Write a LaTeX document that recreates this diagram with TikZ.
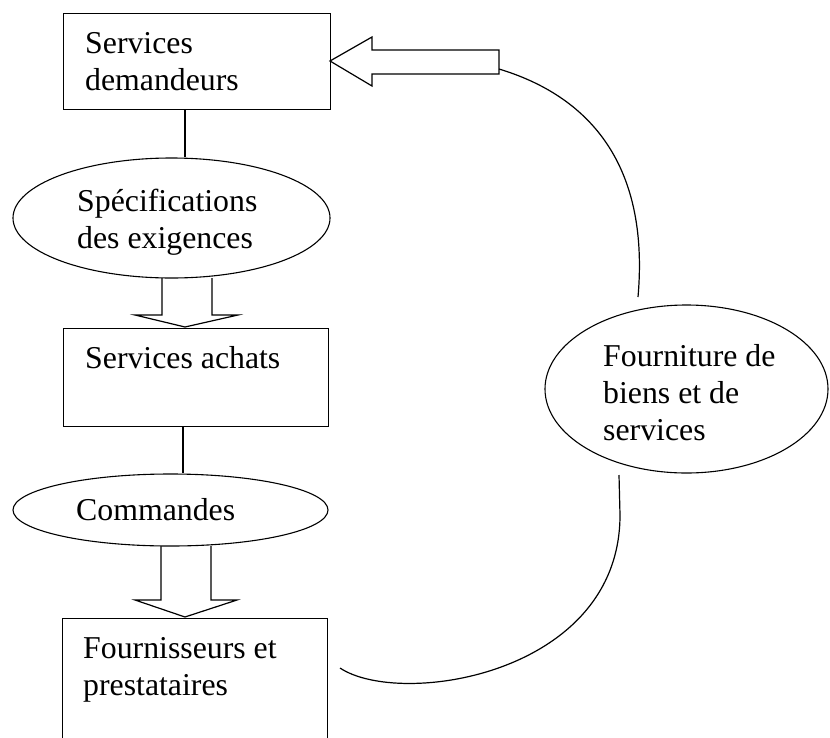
\documentclass[tikz,border=0pt]{standalone}
\usepackage{fontspec}
\setmainfont{Liberation Serif}
\usetikzlibrary{shapes.geometric}
\begin{document}
\begin{tikzpicture}[x=1pt,y=-1pt,
  box/.style={draw, line width=1.1pt, rectangle, inner sep=0pt, anchor=north west},
  oval/.style={draw, line width=1.1pt, ellipse, inner sep=0pt},
  lbl/.style={font=\fontsize{31.8}{37}\selectfont, inner sep=0pt, anchor=base west, align=left},
  link/.style={line width=1.2pt},
  fat/.style={draw, line width=1.2pt, line join=miter}]
\useasboundingbox (0,0) rectangle (830,737);

% boxes
\node[box, minimum width=267pt, minimum height=96pt] (b1) at (63,13) {};
\node[box, minimum width=265pt, minimum height=98pt] (b2) at (63,328) {};
\node[box, minimum width=265pt, minimum height=140pt] (b3) at (62,618) {};

% ellipses
\node[oval, minimum width=317pt, minimum height=120pt] (e1) at (171.5,218) {};
\node[oval, minimum width=315pt, minimum height=72pt] (e2) at (170.5,510) {};
\node[oval, minimum width=283pt, minimum height=168pt] (e3) at (686.5,389) {};

% texts (anchor = baseline of the last line)
\node[lbl] (t1) at (85,90) {Services\\demandeurs};
\node[lbl] (t2) at (77,248) {Spécifications\\des exigences};
\node[lbl] (t3) at (85,368) {Services achats};
\node[lbl] (t4) at (76,520) {Commandes};
\node[lbl] (t5) at (83,695) {Fournisseurs et\\prestataires};
\node[lbl] (t6) at (603,440) {Fourniture de\\biens et de\\services};

% plain connectors
\coordinate (x1) at (185,0);
\coordinate (x2) at (183,0);
\draw[link] (b1.south -| x1) -- (e1.north -| x1);
\draw[link] (b2.south -| x2) -- (e2.north -| x2);

% block arrows down
\draw[fat] (162,278) -- (162,315) -- (135,315) -- (185,327) -- (238,315) -- (212,315) -- (212,278);
\draw[fat] (161,546) -- (161,600) -- (135,600) -- (185,617) -- (237,600) -- (211,600) -- (211,546);

% block arrow left
\draw[fat] (499,50) -- (372,50) -- (372,37) -- (330,61) -- (372,86) -- (372,74) -- (499,74) -- cycle;

% curves
\coordinate (c1s) at (499,69);
\coordinate (c1e) at (638,297);
\draw[link] (c1s) .. controls (585,95) and (650,160) .. (c1e);
\coordinate (c2s) at (340,668);
\coordinate (c2m) at (620,515);
\coordinate (c2e) at (619,475);
\draw[link] (c2s) .. controls (400,708) and (620,675) .. (c2m) -- (c2e);
\end{tikzpicture}
\end{document}
